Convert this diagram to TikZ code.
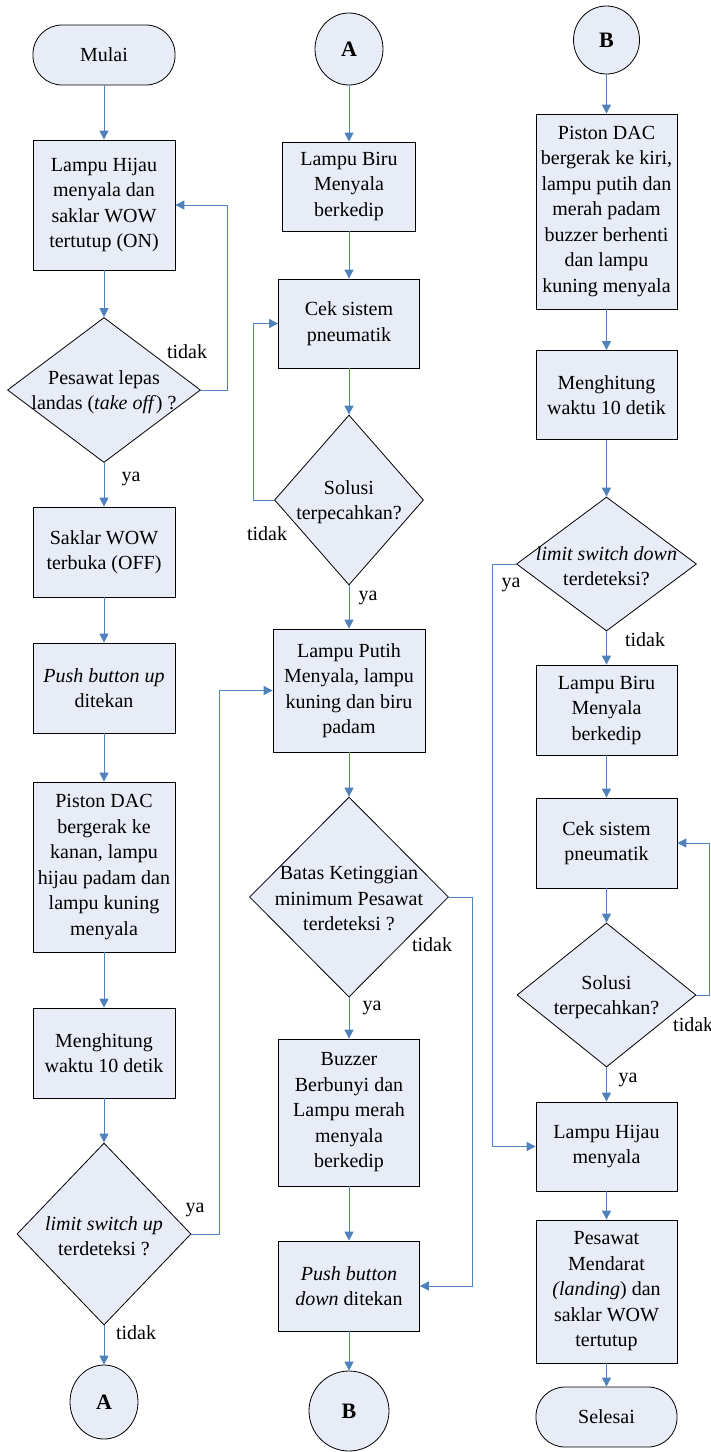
\documentclass[tikz,border=0pt]{standalone}
\usepackage{fontspec}
\setmainfont{Liberation Serif}
\usetikzlibrary{shapes.geometric,arrows.meta}
\definecolor{fillc}{RGB}{231,236,246}
\definecolor{linec}{RGB}{79,129,189}
\tikzset{
  every node/.style={font=\fontsize{20}{25.5}\selectfont},
  proc/.style={draw=black,line width=0.8pt,fill=fillc,rectangle,inner sep=0pt,align=center},
  term/.style={draw=black,line width=0.8pt,fill=fillc,rectangle,rounded corners=29pt,inner sep=0pt,align=center},
  dec/.style={draw=black,line width=0.8pt,fill=fillc,diamond,inner sep=0pt},
  dtext/.style={align=center,inner sep=0pt},
  conn/.style={draw=black,line width=0.8pt,fill=fillc,ellipse,inner sep=0pt,font=\fontsize{22}{26}\selectfont\bfseries},
  arr/.style={draw=linec,line width=1pt,-{Triangle[length=9pt,width=9pt]}},
  lbl/.style={inner sep=0pt},
}
\begin{document}
\begin{tikzpicture}[x=1pt,y=-1pt]
\useasboundingbox (0,0) rectangle (710,1452);
% ---------------- left column ----------------
\node[term,minimum width=142pt,minimum height=60pt] (mulai) at (104,55) {Mulai};
\node[proc,minimum width=142pt,minimum height=130pt] (b1) at (104,205) {Lampu Hijau\\menyala dan\\saklar WOW\\tertutup (ON)};
\node[dec,minimum width=193pt,minimum height=145pt] (d1) at (104,390) {};
\node[dtext] (d1t) at (104,392) {Pesawat lepas\\landas (\textit{take off}) ?};
\node[proc,minimum width=142pt,minimum height=90pt] (b2) at (104,552) {Saklar WOW\\terbuka (OFF)};
\node[proc,minimum width=142pt,minimum height=90pt] (b3) at (104,688) {\textit{Push button up}\\ditekan};
\node[proc,minimum width=142pt,minimum height=170pt] (b4) at (104,867) {Piston DAC\\bergerak ke\\kanan, lampu\\hijau padam dan\\lampu kuning\\menyala};
\node[proc,minimum width=142pt,minimum height=90pt] (b5) at (104,1053) {Menghitung\\waktu 10 detik};
\node[dec,minimum width=174pt,minimum height=182pt] (d2) at (104,1234) {};
\node[dtext] (d2t) at (104,1236) {\textit{limit switch up}\\terdeteksi ?};
\node[conn,minimum width=68pt,minimum height=74pt] (cA1) at (104,1402) {A};
% ---------------- middle column ----------------
\node[conn,minimum width=68pt,minimum height=72pt] (cA2) at (349,49) {A};
\node[proc,minimum width=133pt,minimum height=89pt] (m1) at (349,186.5) {Lampu Biru\\Menyala\\berkedip};
\node[proc,minimum width=141pt,minimum height=89pt] (m2) at (349,323.5) {Cek sistem\\pneumatik};
\node[dec,minimum width=149pt,minimum height=170pt] (dm1) at (349,500) {};
\node[dtext] (dm1t) at (349,502) {Solusi\\terpecahkan?};
\node[proc,minimum width=152pt,minimum height=123pt] (m3) at (349,690.5) {Lampu Putih\\Menyala, lampu\\kuning dan biru\\padam};
\node[dec,minimum width=199pt,minimum height=200pt] (dm2) at (349,897) {};
\node[dtext] (dm2t) at (349,899) {Batas Ketinggian\\minimum Pesawat\\terdeteksi ?};
\node[proc,minimum width=141pt,minimum height=147pt] (m4) at (349,1112.5) {Buzzer\\Berbunyi dan\\Lampu merah\\menyala\\berkedip};
\node[proc,minimum width=141pt,minimum height=90pt] (m5) at (349,1286) {\textit{Push button}\\\textit{down} ditekan};
\node[conn,minimum width=80pt,minimum height=80pt] (cB1) at (349,1411) {B};
% ---------------- right column ----------------
\node[conn,minimum width=66pt,minimum height=68pt] (cB2) at (606.5,40) {B};
\node[proc,minimum width=141pt,minimum height=195pt] (r1) at (606.5,211.5) {Piston DAC\\bergerak ke kiri,\\lampu putih dan\\merah padam\\buzzer berhenti\\dan lampu\\kuning menyala};
\node[proc,minimum width=141pt,minimum height=89pt] (r2) at (606.5,395) {Menghitung\\waktu 10 detik};
\node[dec,minimum width=180pt,minimum height=134pt] (dr1) at (606.5,564) {};
\node[dtext] (dr1t) at (606.5,566) {\textit{limit switch down}\\terdeteksi?};
\node[proc,minimum width=141pt,minimum height=90pt] (r3) at (606.5,710) {Lampu Biru\\Menyala\\berkedip};
\node[proc,minimum width=141pt,minimum height=90pt] (r4) at (606.5,843) {Cek sistem\\pneumatik};
\node[dec,minimum width=179pt,minimum height=144pt] (dr2) at (606.5,995) {};
\node[dtext] (dr2t) at (606.5,997) {Solusi\\terpecahkan?};
\node[proc,minimum width=141pt,minimum height=89pt] (r5) at (606.5,1146.5) {Lampu Hijau\\menyala};
\node[proc,minimum width=141pt,minimum height=143pt] (r6) at (606.5,1291.5) {Pesawat\\Mendarat\\\textit{(landing}) dan\\saklar WOW\\tertutup};
\node[term,minimum width=141pt,minimum height=60pt] (sel) at (606.5,1417) {Selesai};
% ---------------- labels ----------------
\node[lbl] (l1) at (187,352) {tidak};
\node[lbl] (l2) at (131,479) {ya};
\node[lbl] (l3) at (195,1210) {ya};
\node[lbl] (l4) at (136,1333) {tidak};
\node[lbl] (l5) at (267,534) {tidak};
\node[lbl] (l6) at (368,598) {ya};
\node[lbl] (l7) at (432,945) {tidak};
\node[lbl] (l8) at (372,1008) {ya};
\node[lbl] (l9) at (511,585) {ya};
\node[lbl] (l10) at (645,640) {tidak};
\node[lbl,anchor=west] (l11) at (673,1025) {tidak};
\node[lbl] (l12) at (628,1080) {ya};
% ---------------- connectors ----------------
\coordinate (e1) at (227,390);
\coordinate (e2) at (219,1234);
\coordinate (e3) at (253,500);
\coordinate (e4) at (472,897);
\coordinate (e5) at (492,564);
\coordinate (e6) at (709,995);
\draw[arr] (mulai) -- (b1);
\draw[arr] (b1) -- (d1);
\draw[arr] (d1) -- (b2);
\draw[arr] (b2) -- (b3);
\draw[arr] (b3) -- (b4);
\draw[arr] (b4) -- (b5);
\draw[arr] (b5) -- (d2);
\draw[arr] (d2) -- (cA1);
\draw[arr] (d1.east) -- (e1) |- (b1.east);
\draw[arr] (d2.east) -- (e2) |- (m3.west);
\draw[arr] (cA2) -- (m1);
\draw[arr] (m1) -- (m2);
\draw[arr] (m2) -- (dm1);
\draw[arr] (dm1) -- (m3);
\draw[arr] (m3) -- (dm2);
\draw[arr] (dm2) -- (m4);
\draw[arr] (m4) -- (m5);
\draw[arr] (m5) -- (cB1);
\draw[arr] (dm1.west) -- (e3) |- (m2.west);
\draw[arr] (dm2.east) -- (e4) |- (m5.east);
\draw[arr] (cB2) -- (r1);
\draw[arr] (r1) -- (r2);
\draw[arr] (r2) -- (dr1);
\draw[arr] (dr1) -- (r3);
\draw[arr] (r3) -- (r4);
\draw[arr] (r4) -- (dr2);
\draw[arr] (dr2) -- (r5);
\draw[arr] (r5) -- (r6);
\draw[arr] (r6) -- (sel);
\draw[arr] (dr1.west) -- (e5) |- (r5.west);
\draw[arr] (dr2.east) -- (e6) |- (r4.east);
\end{tikzpicture}
\end{document}
